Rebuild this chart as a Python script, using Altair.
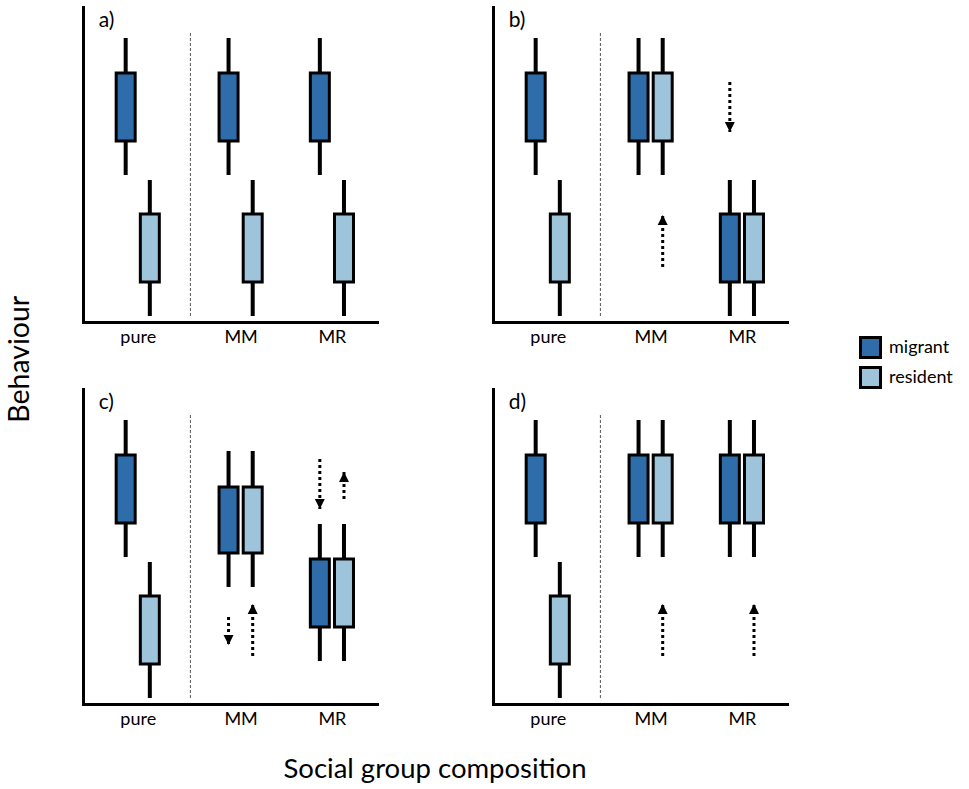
import altair as alt
import pandas as pd

# ---------------- data ----------------
panels = ["a", "b", "c", "d"]
groups = ["pure", "MM", "MR"]
types = ["migrant", "resident"]
type_colors = ["#2F6DAA", "#9EC4DC"]

# box order in each panel: pure-migrant, pure-resident, MM-migrant, MM-resident, MR-migrant, MR-resident
box_group = ["pure", "pure", "MM", "MM", "MR", "MR"]
box_type = ["migrant", "resident", "migrant", "resident", "migrant", "resident"]

whisker_low = {
    "a": [147, 6, 147, 6, 147, 6],
    "b": [147, 6, 147, 147, 6, 6],
    "c": [147, 6, 117, 117, 43, 43],
    "d": [147, 6, 147, 147, 147, 147],
}
box_low = {
    "a": [181, 40, 181, 40, 181, 40],
    "b": [181, 40, 181, 181, 40, 40],
    "c": [181, 40, 151, 151, 77, 77],
    "d": [181, 40, 181, 181, 181, 181],
}
box_high = {
    "a": [249, 108, 249, 108, 249, 108],
    "b": [249, 108, 249, 249, 108, 108],
    "c": [249, 108, 217, 217, 145, 145],
    "d": [249, 108, 249, 249, 249, 249],
}
whisker_high = {
    "a": [284, 142, 284, 142, 284, 142],
    "b": [284, 142, 284, 284, 142, 142],
    "c": [284, 142, 253, 253, 180, 180],
    "d": [284, 142, 284, 284, 284, 284],
}

# expected shifts (dotted arrows)
arrow_panel = ["b", "b", "c", "c", "c", "c", "d", "d"]
arrow_group = ["MR", "MM", "MR", "MR", "MM", "MM", "MM", "MR"]
arrow_type = ["migrant", "resident", "migrant", "resident", "migrant", "resident", "resident", "resident"]
arrow_from = [240, 55, 245, 205, 87, 48, 48, 48]
arrow_to = [190, 107, 195, 232, 59, 100, 100, 100]

# ---------------- layout of the categorical axis ----------------
group_center = {"pure": 51.5, "MM": 158, "MR": 252.5}
type_offset = {"migrant": -12.5, "resident": 12.5}
divider_x = 106
X_MAX, Y_MAX = 294, 315
FONT = "Lato"

rows = []
for p in panels:
    for i in range(6):
        g, t = box_group[i], box_type[i]
        rows.append(dict(panel=p, group=g, type=t,
                         x=group_center[g] + type_offset[t],
                         wlo=whisker_low[p][i], blo=box_low[p][i],
                         bhi=box_high[p][i], whi=whisker_high[p][i]))
boxes = pd.DataFrame(rows)

arrows = pd.DataFrame(dict(panel=arrow_panel, group=arrow_group, type=arrow_type,
                           y0=arrow_from, y1=arrow_to))
arrows["x"] = [group_center[g] + type_offset[t] for g, t in zip(arrow_group, arrow_type)]
arrows["dir"] = ["up" if b > a else "down" for a, b in zip(arrow_from, arrow_to)]

xscale = alt.Scale(domain=[0, X_MAX], nice=False, zero=False)
yscale = alt.Scale(domain=[0, Y_MAX], nice=False, zero=False)

centers = [group_center[g] for g in groups]
expr = f"'{groups[-1]}'"
for g in reversed(groups[:-1]):
    expr = f"datum.value < {group_center[g] + 1} ? '{g}' : " + expr

xaxis = alt.Axis(title=None, domainWidth=3, domainColor="black", domainCap="square",
                 ticks=False, grid=False, values=centers, labelExpr=expr,
                 labelFontSize=18, labelFont=FONT, labelColor="black", labelPadding=6)
yaxis = alt.Axis(title=None, domainWidth=3, domainColor="black", domainCap="square",
                 ticks=False, grid=False, labels=False)

arrow_up = "M0,0L0.5,1L-0.5,1Z"
arrow_down = "M0,0L0.5,-1L-0.5,-1Z"

legend = alt.Legend(title=None, orient="none", legendX=776, legendY=329,
                    symbolType="square", symbolSize=400, symbolStrokeColor="black",
                    symbolStrokeWidth=3, labelFontSize=18, labelFont=FONT,
                    labelColor="black", rowPadding=-3, labelOffset=7)


def panel(p):
    bdf = boxes[boxes.panel == p]
    adf = arrows[arrows.panel == p]
    X = alt.X("x:Q", scale=xscale, axis=xaxis)
    divider = alt.Chart(pd.DataFrame({"x": [divider_x], "y": [6], "y2": [291]})).mark_rule(
        color="#555", strokeWidth=1, strokeDash=[3, 2]
    ).encode(x=X, y=alt.Y("y:Q", scale=yscale, axis=yaxis), y2="y2:Q")
    whisk = alt.Chart(bdf).mark_rule(color="black", strokeWidth=4).encode(
        x=X, y=alt.Y("wlo:Q", scale=yscale, axis=yaxis), y2="whi:Q")
    box = alt.Chart(bdf).mark_bar(size=19, stroke="black", strokeWidth=3, opacity=1).encode(
        x=X, y=alt.Y("blo:Q", scale=yscale, axis=yaxis), y2="bhi:Q",
        color=alt.Color("type:N", scale=alt.Scale(domain=types, range=type_colors), legend=legend))
    label = alt.Chart(pd.DataFrame({"x": [11], "y": [301], "t": [p + ")"]})).mark_text(
        align="left", baseline="middle", fontSize=21, font=FONT, color="black"
    ).encode(x=X, y=alt.Y("y:Q", scale=yscale, axis=yaxis), text="t:N")
    layers = [divider, whisk, box, label]
    if len(adf):
        shaft = alt.Chart(adf).mark_rule(color="black", strokeWidth=3, strokeDash=[3, 3]).encode(
            x=X, y=alt.Y("y0:Q", scale=yscale, axis=yaxis), y2="y1:Q")
        head = alt.Chart(adf).mark_point(filled=True, color="black", size=400, opacity=1,
                                         strokeWidth=0).encode(
            x=X, y=alt.Y("y1:Q", scale=yscale, axis=yaxis),
            shape=alt.Shape("dir:N", scale=alt.Scale(domain=["up", "down"], range=[arrow_up, arrow_down]),
                            legend=None))
        layers += [shaft, head]
    return alt.layer(*layers).properties(width=X_MAX, height=Y_MAX)


row1 = alt.hconcat(panel("a"), panel("b"), spacing=116)
row2 = alt.hconcat(panel("c"), panel("d"), spacing=116)
grid = alt.vconcat(row1, row2, spacing=43).properties(
    title=alt.TitleParams("Social group composition", orient="bottom", anchor="middle",
                          fontSize=27.5, font=FONT, fontWeight="normal", color="black", offset=28))

chart = alt.hconcat(grid).properties(
    title=alt.TitleParams("Behaviour", orient="left", anchor="middle", fontSize=28.5, font=FONT,
                          fontWeight="normal", color="black", offset=49, dx=36),
    padding={"left": 5, "top": 7, "right": 5, "bottom": 5},
).configure_view(strokeWidth=0).configure_concat(spacing=0)

chart.save("out.html", embed_options={"renderer": "svg", "actions": False})
